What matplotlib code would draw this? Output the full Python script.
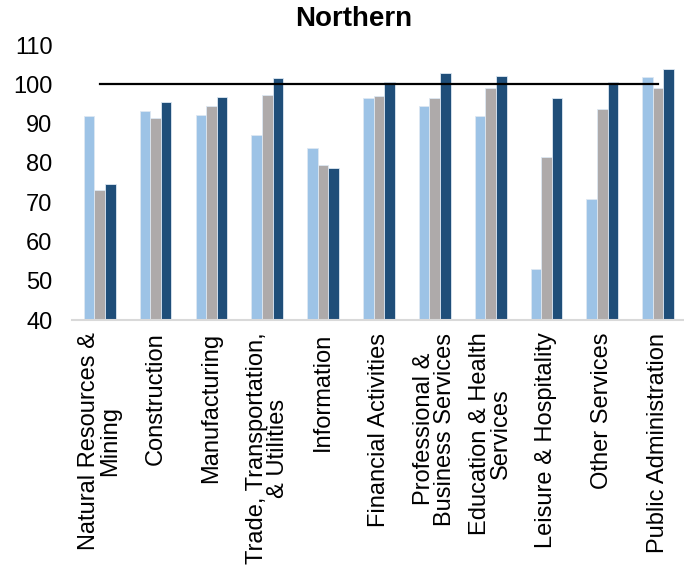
import matplotlib.pyplot as plt
import numpy as np

plt.rcParams['font.family'] = ['Liberation Sans', 'DejaVu Sans']

# industries and index values for the three periods
industries = ['Natural Resources &\nMining', 'Construction', 'Manufacturing',
              'Trade, Transportation,\n& Utilities', 'Information',
              'Financial Activities', 'Professional &\nBusiness Services',
              'Education & Health\nServices', 'Leisure & Hospitality',
              'Other Services', 'Public Administration']
period_a = [92.0, 93.2, 92.3, 87.2, 83.7, 96.5, 94.6, 91.9, 53.0, 70.8, 101.8]
period_b = [73.0, 91.5, 94.6, 97.2, 79.5, 97.0, 96.5, 99.0, 81.5, 93.8, 99.0]
period_c = [74.6, 95.5, 96.8, 101.5, 78.7, 100.5, 102.8, 102.0, 96.5, 100.6, 103.9]
baseline = [100] * len(industries)

colors = ['#9DC3E6', '#AEAAAA', '#1F4E79']

fig = plt.figure(figsize=(6.84, 5.77), dpi=100)
ax = fig.add_axes([0.105, 0.4454, 0.898, 0.4766])

x = np.arange(len(industries))
w = 0.19
for k, (vals, c) in enumerate(zip([period_a, period_b, period_c], colors)):
    ax.bar(x + (k - 1) * w, np.array(vals) - 40, w, bottom=40, color=c,
           edgecolor='#DDE8F3', linewidth=0.6, zorder=2)

ax.plot(x, baseline, color='black', linewidth=1.6, zorder=3)

ax.set_ylim(40, 110)
ax.set_xlim(-0.5, len(industries) - 0.5)
ax.set_yticks(range(40, 111, 10))
ax.set_xticks(x)
ax.set_xticklabels(industries, rotation=90, ha='center', va='top',
                   linespacing=0.95, fontsize=17)
ax.tick_params(axis='y', labelsize=17, length=0, pad=14)
ax.tick_params(axis='x', length=0, pad=9)
for s in ['top', 'right', 'left']:
    ax.spines[s].set_visible(False)
ax.spines['bottom'].set_color('#D9D9D9')
ax.spines['bottom'].set_linewidth(1.5)

fig.text(0.517, 0.967, 'Northern', ha='center', va='center',
         fontsize=20, fontweight='bold')

fig.savefig('out.png', dpi=100)
